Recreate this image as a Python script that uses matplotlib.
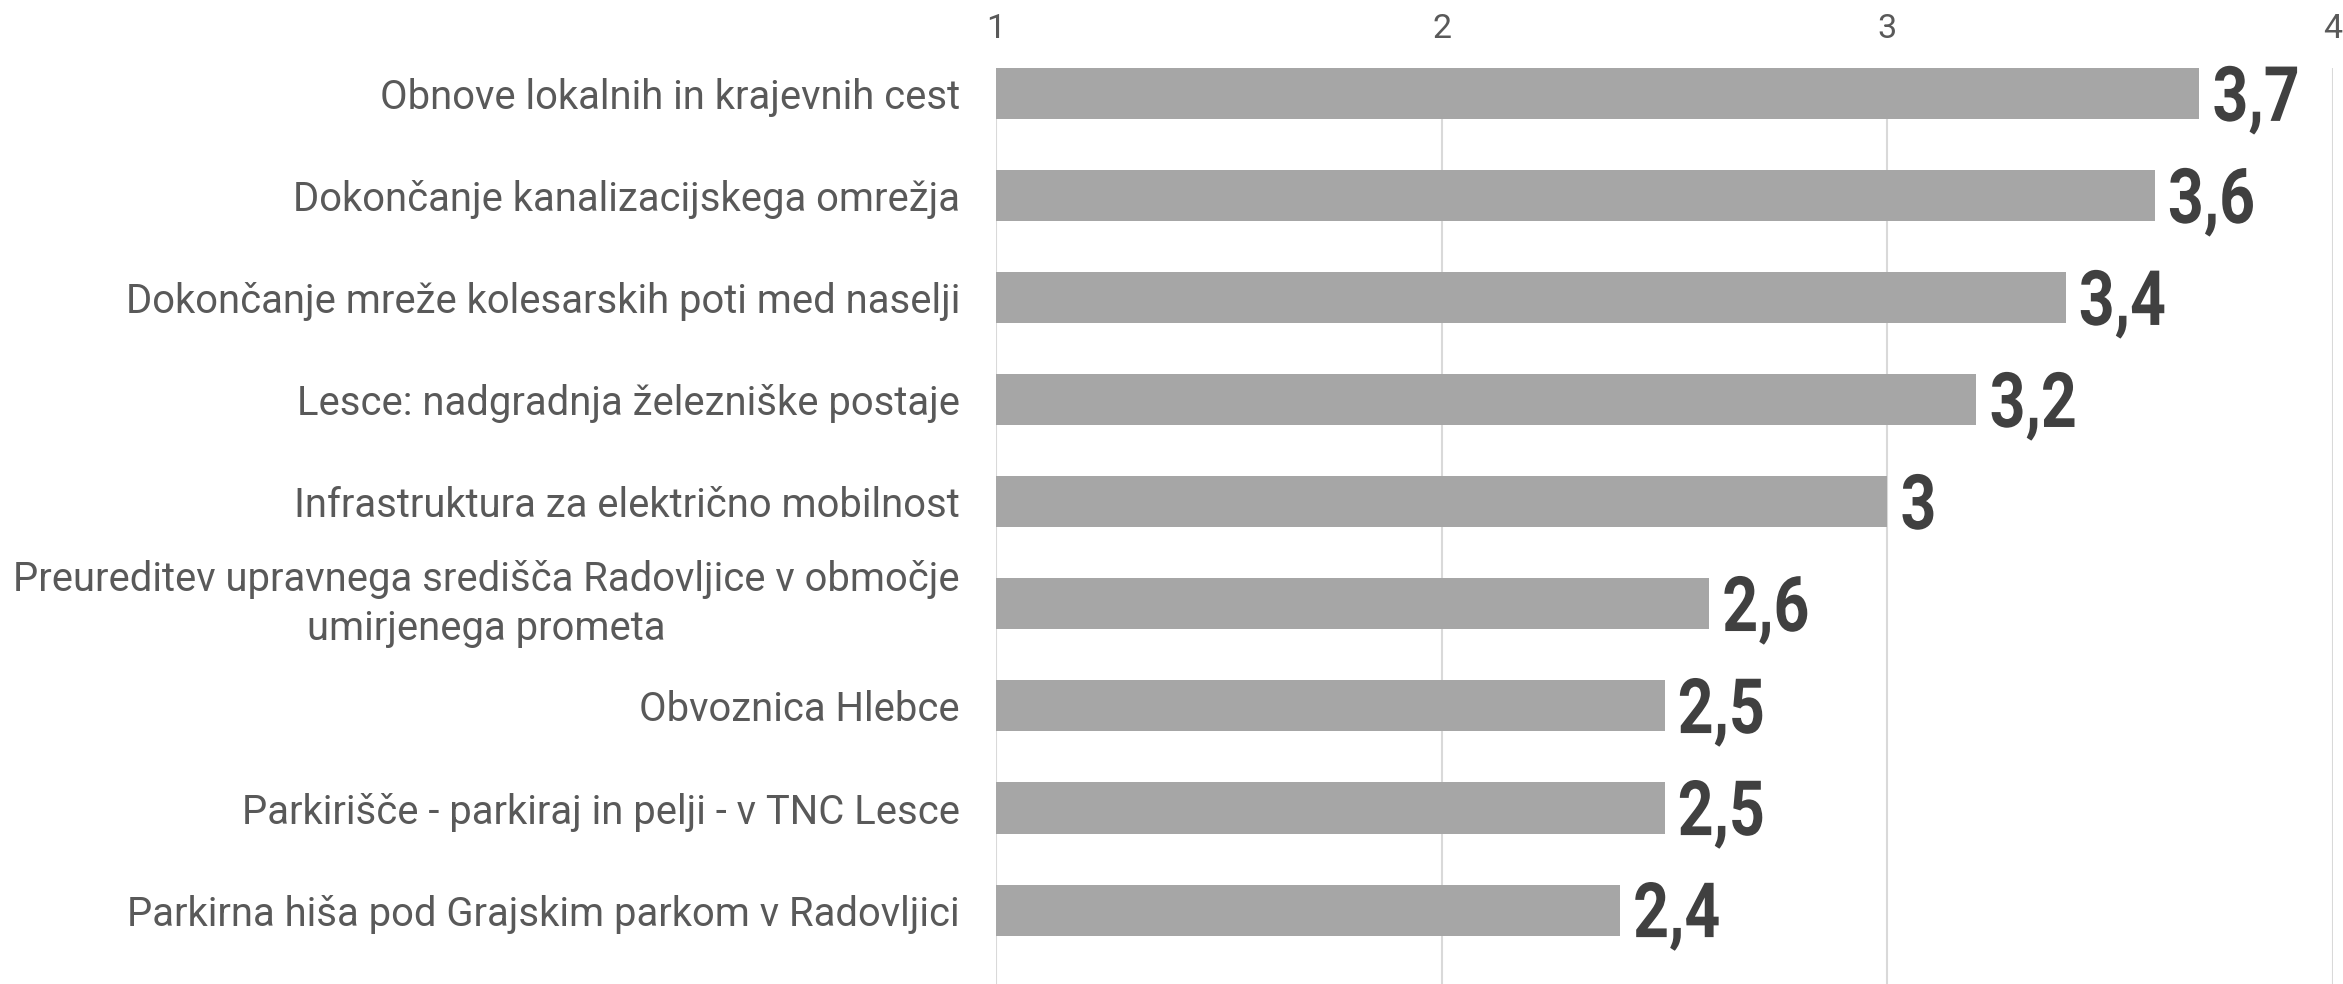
import matplotlib
matplotlib.use('Agg')
import matplotlib.pyplot as plt
from matplotlib import patheffects
from matplotlib.transforms import Affine2D

categories = [
    'Obnove lokalnih in krajevnih cest',
    'Dokončanje kanalizacijskega omrežja',
    'Dokončanje mreže kolesarskih poti med naselji',
    'Lesce: nadgradnja železniške postaje',
    'Infrastruktura za električno mobilnost',
    'Preureditev upravnega središča Radovljice v območje\numirjenega prometa',
    'Obvoznica Hlebce',
    'Parkirišče - parkiraj in pelji - v TNC Lesce',
    'Parkirna hiša pod Grajskim parkom v Radovljici',
]
values = [3.7, 3.6, 3.4, 3.2, 3.0, 2.6, 2.5, 2.5, 2.4]
xticks = [1, 2, 3, 4]


class Squeeze(patheffects.AbstractPathEffect):
    # narrow the glyphs horizontally (condensed look)
    def __init__(self, sx):
        super().__init__()
        self.sx = sx

    def draw_path(self, renderer, gc, tpath, affine, rgbFace=None):
        renderer.draw_path(gc, tpath, Affine2D().scale(self.sx, 1) + affine, rgbFace)


def fmt(v):
    s = f'{v:.1f}'.rstrip('0').rstrip('.')
    return s.replace('.', ',')


fig = plt.figure(figsize=(23.43, 9.84), dpi=100)
ax = fig.add_axes([996 / 2343, 0, (2333 - 996) / 2343, 1 - 68.3 / 984])

y = list(range(len(categories)))
ax.barh(y, values, height=0.5, color='#a6a6a6', zorder=2)

ax.set_xlim(1, 4)
ax.set_ylim(8.725, -0.25)
ax.set_xticks(xticks)
ax.set_xticklabels([str(t) for t in xticks])
ax.xaxis.tick_top()
ax.tick_params(axis='x', length=0, pad=17, labelsize=24.5, labelcolor='#595959')
ax.set_yticks(y)
ax.set_yticklabels(categories)
ax.tick_params(axis='y', length=0, pad=26, labelsize=28.8, labelcolor='#595959')
for lab in ax.get_xticklabels():
    lab.set_fontfamily('Roboto')
for lab in ax.get_yticklabels():
    lab.set_fontfamily('Roboto')
    if '\n' in lab.get_text():
        lab.set_multialignment('center')
        lab.set_linespacing(1.3)
        lab.set_verticalalignment('center')

ax.grid(axis='x', color='#d9d9d9', linewidth=1.5, zorder=0)
ax.set_axisbelow(True)
for sp in ax.spines.values():
    sp.set_visible(False)

for yi, v in zip(y, values):
    ax.annotate(fmt(v), xy=(v, yi), xytext=(9.5, -19.5), textcoords='offset points',
                ha='left', va='baseline', fontsize=55, fontweight='bold',
                family='Roboto', color='#404040',
                path_effects=[Squeeze(0.82)])

fig.savefig('out.png', dpi=100)
